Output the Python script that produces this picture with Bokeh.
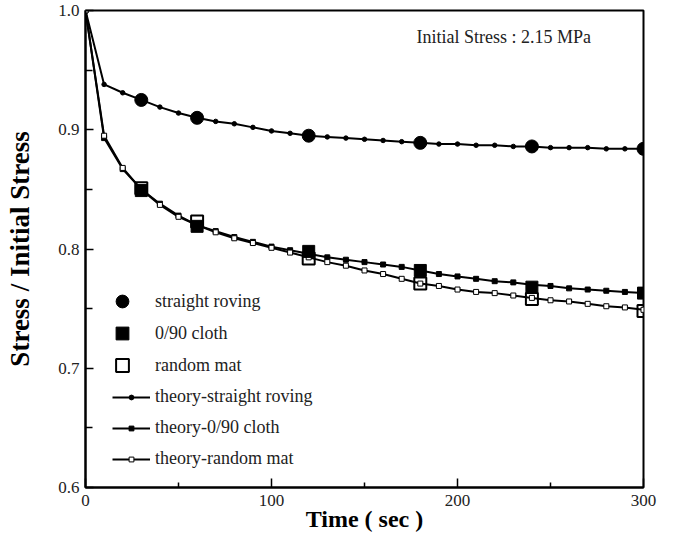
from bokeh.plotting import figure
from bokeh.models import (Range1d, FixedTicker, PrintfTickFormatter, Label,
                          Legend, LegendItem)
from bokeh.embed import file_html
from bokeh.resources import INLINE

# ---------------- data ----------------
theory_time = [0, 10, 20, 30, 40, 50, 60, 70, 80, 90, 100, 110, 120, 130, 140, 150,
               160, 170, 180, 190, 200, 210, 220, 230, 240, 250, 260, 270, 280, 290, 300]
theory_roving = [1.0, 0.938, 0.931, 0.925, 0.919, 0.914, 0.910, 0.907, 0.905, 0.902,
                 0.899, 0.897, 0.895, 0.894, 0.893, 0.892, 0.891, 0.890, 0.889, 0.888,
                 0.888, 0.887, 0.887, 0.886, 0.886, 0.885, 0.885, 0.885, 0.884, 0.884, 0.884]
theory_cloth = [1.0, 0.893, 0.867, 0.850, 0.838, 0.828, 0.820, 0.815, 0.810, 0.806,
                0.802, 0.799, 0.796, 0.793, 0.791, 0.789, 0.787, 0.785, 0.782, 0.779,
                0.777, 0.775, 0.773, 0.772, 0.770, 0.769, 0.767, 0.766, 0.765, 0.764, 0.763]
theory_mat = [1.0, 0.895, 0.868, 0.850, 0.837, 0.827, 0.820, 0.814, 0.809, 0.805,
              0.801, 0.797, 0.793, 0.789, 0.786, 0.782, 0.779, 0.775, 0.771, 0.769,
              0.766, 0.764, 0.763, 0.761, 0.759, 0.757, 0.756, 0.754, 0.752, 0.751, 0.749]

exp_time = [30, 60, 120, 180, 240, 300]
exp_roving = [0.925, 0.910, 0.895, 0.889, 0.886, 0.884]
exp_cloth = [0.849, 0.819, 0.798, 0.782, 0.768, 0.763]
exp_mat = [0.851, 0.823, 0.792, 0.771, 0.758, 0.748]

x_ticks = [0, 100, 200, 300]
x_minor = [50, 150, 250]
y_ticks = [0.6, 0.7, 0.8, 0.9, 1.0]
y_minor = [0.65, 0.75, 0.85, 0.95]

FONT = "Liberation Serif"

p = figure(width=657, height=541, output_backend="svg", toolbar_location=None,
           x_range=Range1d(0, 300), y_range=Range1d(0.6, 1.0),
           min_border_left=85, min_border_right=14, min_border_top=10,
           min_border_bottom=54)
p.grid.visible = False
p.outline_line_color = "black"
p.outline_line_width = 2
p.background_fill_color = "white"

# axes
p.xaxis.ticker = FixedTicker(ticks=x_ticks, minor_ticks=x_minor)
p.yaxis.ticker = FixedTicker(ticks=y_ticks, minor_ticks=y_minor)
p.yaxis.formatter = PrintfTickFormatter(format="%.1f")
for ax in (p.xaxis[0], p.yaxis[0]):
    ax.axis_line_color = "black"
    ax.axis_line_width = 2
    ax.major_tick_line_color = "black"
    ax.minor_tick_line_color = "black"
    ax.major_tick_line_width = 1.5
    ax.minor_tick_line_width = 1.5
    ax.major_tick_out = 0
    ax.minor_tick_out = 0
    ax.major_label_text_font = FONT
    ax.major_label_text_font_size = "17px"
    ax.major_label_text_color = "#222222"
    ax.axis_label_text_font = FONT
    ax.axis_label_text_font_style = "bold"
    ax.axis_label_text_color = "black"
p.xaxis.axis_label_text_font_size = "24px"
p.yaxis.axis_label_text_font_size = "27px"
p.xaxis.major_tick_in = 9
p.xaxis.minor_tick_in = 5
p.yaxis.major_tick_in = 8
p.yaxis.minor_tick_in = 7
p.xaxis.axis_label = "Time ( sec )"
p.yaxis.axis_label = "Stress / Initial Stress"
p.xaxis.major_label_standoff = 7
p.yaxis.major_label_standoff = 6
p.xaxis.axis_label_standoff = -3
p.yaxis.axis_label_standoff = 20

# theory curves
l1 = p.line(theory_time, theory_roving, line_color="black", line_width=2)
m1 = p.scatter(theory_time, theory_roving, marker="circle", size=4.5,
               fill_color="black", line_color="black")
l2 = p.line(theory_time, theory_cloth, line_color="black", line_width=2)
m2 = p.scatter(theory_time, theory_cloth, marker="square", size=5,
               fill_color="black", line_color="black")
l3 = p.line(theory_time, theory_mat, line_color="black", line_width=2)
m3 = p.scatter(theory_time, theory_mat, marker="square", size=5,
               fill_color="white", line_color="black", line_width=1)

# experimental points
e1 = p.scatter(exp_time, exp_roving, marker="circle", size=13,
               fill_color="black", line_color="black")
e2 = p.scatter(exp_time, exp_cloth, marker="square", size=12,
               fill_color="black", line_color="black")
e3 = p.scatter(exp_time, exp_mat, marker="square", size=12,
               fill_color="white", fill_alpha=0, line_color="black", line_width=2)

leg1 = Legend(items=[LegendItem(label="straight roving", renderers=[e1]),
                     LegendItem(label="0/90 cloth", renderers=[e2]),
                     LegendItem(label="random mat", renderers=[e3])],
              location=(21, 106), glyph_width=32, glyph_height=32,
              label_height=32, spacing=0, label_standoff=17, padding=0, margin=0,
              border_line_color=None, background_fill_alpha=0,
              label_text_font=FONT, label_text_font_size="18px",
              label_text_color="#222222")
leg2 = Legend(items=[LegendItem(label="theory-straight roving", renderers=[l1, m1]),
                     LegendItem(label="theory-0/90 cloth", renderers=[l2, m2]),
                     LegendItem(label="theory-random mat", renderers=[l3, m3])],
              location=(27, 18), glyph_width=38, glyph_height=12,
              label_height=12, spacing=10, label_standoff=5, padding=0, margin=0,
              border_line_color=None, background_fill_alpha=0,
              label_text_font=FONT, label_text_font_size="18px",
              label_text_color="#222222")
p.add_layout(leg1)
p.add_layout(leg2)

p.add_layout(Label(x=178, y=0.978, text="Initial Stress : 2.15 MPa",
                   text_font=FONT, text_font_size="18px", text_baseline="middle",
                   text_color="#222222"))

open("out.html", "w").write(file_html(p, INLINE))
